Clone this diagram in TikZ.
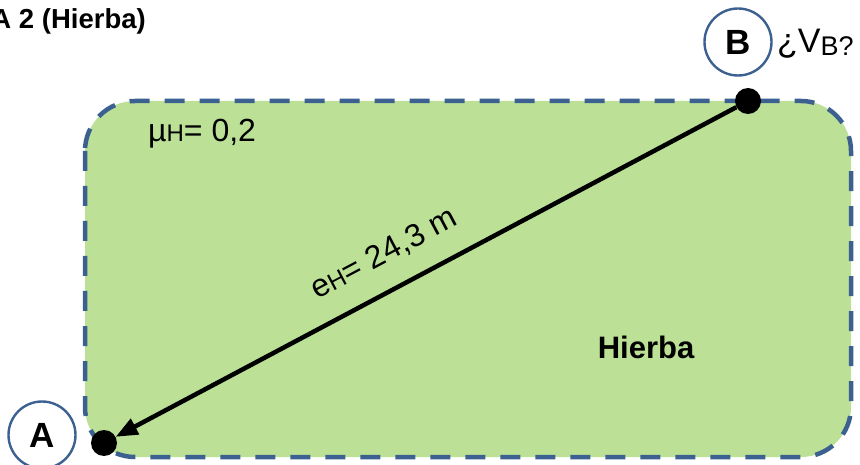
\documentclass[tikz,border=0pt]{standalone}
\usepackage{fontspec}
\setmainfont{Liberation Sans}
\usepackage{tikz}
\usetikzlibrary{arrows.meta}
\definecolor{grass}{HTML}{BBE096}
\definecolor{edge}{HTML}{3C6190}
\newcommand{\smallsub}[1]{{\fontsize{24}{24}\selectfont #1}}
\tikzset{
  dot/.style={circle, fill, inner sep=0pt, minimum size=26pt},
  ring/.style={circle, draw=edge, line width=2.4pt, inner sep=0pt, minimum size=67pt,
    font=\fontsize{35}{35}\selectfont\bfseries},
  txt/.style={font=\fontsize{32}{36}\selectfont, inner sep=0pt}
}
\begin{document}
\begin{tikzpicture}[x={(1pt,0)},y={(0,-1pt)}]
        \useasboundingbox (0,0) rectangle (860,465);
        \draw [fill=grass, draw=edge, line width=4.5pt, dash pattern=on 20pt off 15pt,
          rounded corners=50pt] (85,101) rectangle (851,457);

        \node [txt, font=\fontsize{27.5}{30}\selectfont\bfseries, anchor=east](title) at (146,21){A 2 (Hierba)};
        \node [txt, anchor=west](mu) at (148,134){\textmu\smallsub{H}= 0,2};
        \node [txt, font=\fontsize{31}{34}\selectfont\bfseries](zone) at (646,347){Hierba};
        \node [txt, rotate=28](eh) at (384,254){e\smallsub{H}= 24,3 m};

        \node [dot](vB) at (748,101){};
        \node [dot](vA) at (104,443){};
        \node [ring](cB) at (738,42){B};
        \node [ring](cA) at (42,435){A};
        \node [txt, font=\fontsize{34}{36}\selectfont, anchor=west](vq) at (777,44){¿V\raisebox{-3pt}{\fontsize{27}{27}\selectfont B?}};

        \draw [line width=4.5pt, -{Triangle[length=22pt,width=17pt]}] (vB) -- (vA);
\end{tikzpicture}
\end{document}
